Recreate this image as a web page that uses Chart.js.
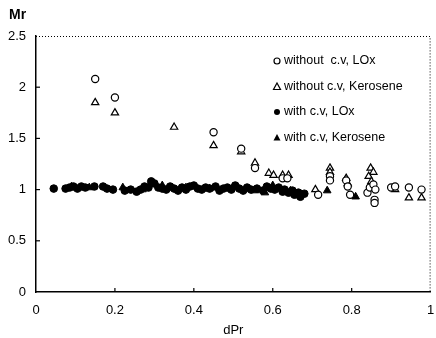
<!DOCTYPE html>
<html><head><meta charset="utf-8">
<script src="https://cdn.jsdelivr.net/npm/chart.js@4/dist/chart.umd.min.js"></script>
<style>html,body{margin:0;padding:0;background:#fff;}#wrap{width:436px;height:338px;}</style>
</head><body><div id="wrap"><canvas id="c" width="436" height="338"></canvas></div>
<script>
const xTicks = [0, 0.2, 0.4, 0.6, 0.8, 1];
const yTicks = [0, 0.5, 1, 1.5, 2, 2.5];
const seriesNames = ['without  c.v, LOx', 'without c.v, Kerosene', 'with c.v, LOx', 'with c.v, Kerosene'];

const noCvLoxX = [0.15,0.20,0.45,0.52,0.555,0.625,0.637,0.715,0.745,0.745,0.786,0.79,0.796,0.84,0.846,0.855,0.86,0.858,0.858,0.90,0.91,0.945,0.977];
const noCvLoxY = [2.08,1.90,1.56,1.40,1.21,1.11,1.11,0.95,1.13,1.09,1.09,1.03,0.95,0.97,1.02,1.05,1.00,0.90,0.87,1.02,1.03,1.02,1.00];

const noCvKerX = [0.15,0.20,0.35,0.45,0.52,0.555,0.59,0.602,0.625,0.64,0.708,0.745,0.745,0.786,0.79,0.848,0.855,0.843,0.85,0.91,0.945,0.977];
const noCvKerY = [1.85,1.75,1.61,1.43,1.37,1.26,1.16,1.14,1.14,1.14,1.00,1.21,1.17,1.11,1.06,1.21,1.17,1.13,1.08,1.00,0.92,0.92];

const cvLoxX = [0.045,0.075,0.085,0.095,0.105,0.115,0.125,0.148,0.17,0.18,0.195,0.225,0.24,0.255,0.265,0.275,0.285,0.292,0.30,0.31,0.32,0.33,0.34,0.35,0.36,0.37,0.38,0.39,0.40,0.41,0.42,0.43,0.44,0.455,0.465,0.475,0.485,0.495,0.505,0.515,0.525,0.535,0.545,0.56,0.575,0.585,0.595,0.605,0.615,0.625,0.63,0.64,0.65,0.655,0.665,0.67,0.68];
const cvLoxY = [1.01,1.01,1.02,1.03,1.01,1.03,1.02,1.03,1.03,1.01,1.00,0.99,1.00,0.98,1.00,1.03,1.02,1.08,1.06,1.02,1.01,1.00,1.03,1.01,0.99,1.02,1.00,1.03,1.04,1.01,1.00,1.02,1.01,1.03,0.99,1.01,1.02,1.00,1.04,1.01,0.99,1.02,1.00,1.01,0.99,1.03,1.01,1.00,1.02,0.98,1.00,0.97,0.99,0.95,0.97,0.93,0.96];

const cvKerX = [0.09,0.135,0.22,0.27,0.32,0.38,0.44,0.50,0.555,0.58,0.60,0.645,0.66,0.738,0.81];
const cvKerY = [1.03,1.02,1.02,1.00,1.04,1.02,1.01,1.03,0.99,0.97,1.04,0.99,0.96,0.99,0.93];

function pts(xs, ys){ return xs.map((x,i)=>({x:x, y:ys[i]})); }

const FONT = '"Liberation Sans", Arial, sans-serif';

const frame = {
  id:'frame',
  afterDraw(chart){
    const ctx = chart.ctx, a = chart.chartArea;
    ctx.save();
    ctx.strokeStyle = '#000'; ctx.lineWidth = 1; ctx.setLineDash([1,2]);
    ctx.beginPath();
    ctx.moveTo(a.left, a.top+0.5); ctx.lineTo(a.right-0.5, a.top+0.5); ctx.lineTo(a.right-0.5, a.bottom);
    ctx.stroke();
    ctx.setLineDash([]);
    ctx.lineWidth = 1.2;
    const xs = chart.scales.x, ys = chart.scales.y;
    xTicks.forEach(v=>{ if(v===0||v===1) return; const p = xs.getPixelForValue(v); ctx.beginPath(); ctx.moveTo(p, a.bottom); ctx.lineTo(p, a.bottom-4); ctx.stroke(); });
    yTicks.forEach(v=>{ if(v===0||v===2.5) return; const p = ys.getPixelForValue(v); ctx.beginPath(); ctx.moveTo(a.left, p); ctx.lineTo(a.left+4, p); ctx.stroke(); });
    ctx.fillStyle = '#000';
    ctx.font = 'bold 14px ' + FONT;
    ctx.textAlign = 'left'; ctx.textBaseline = 'middle';
    ctx.fillText('Mr', 9, 15);
    ctx.font = '12.5px ' + FONT;
    const lx = a.left + 241, ly0 = a.top + 25, dy = 25.5;
    chart.data.datasets.forEach((ds, i)=>{
      const y = ly0 + i*dy;
      ctx.strokeStyle = '#000'; ctx.fillStyle = '#000'; ctx.lineWidth = 1.2;
      ctx.beginPath();
      if (ds.pointStyle === 'circle') {
        ctx.arc(lx, y, 3, 0, Math.PI*2);
      } else {
        ctx.moveTo(lx, y-3.5); ctx.lineTo(lx+3.5, y+3); ctx.lineTo(lx-3.5, y+3); ctx.closePath();
      }
      if (ds.backgroundColor === '#000') ctx.fill(); else ctx.stroke();
      ctx.fillStyle = '#000';
      ctx.fillText(ds.label, lx + 7, y);
    });
    ctx.restore();
  }
};

new Chart(document.getElementById('c'), {
  type:'scatter',
  data:{ datasets:[
    {label:seriesNames[0], data:pts(noCvLoxX,noCvLoxY), pointStyle:'circle', radius:3.6, borderColor:'#000', backgroundColor:'#fff', borderWidth:1.2},
    {label:seriesNames[1], data:pts(noCvKerX,noCvKerY), pointStyle:'triangle', radius:4.2, borderColor:'#000', backgroundColor:'#fff', borderWidth:1.2},
    {label:seriesNames[2], data:pts(cvLoxX,cvLoxY), pointStyle:'circle', radius:3.8, borderColor:'#000', backgroundColor:'#000', borderWidth:1},
    {label:seriesNames[3], data:pts(cvKerX,cvKerY), pointStyle:'triangle', radius:4.4, borderColor:'#000', backgroundColor:'#000', borderWidth:1}
  ]},
  options:{
    responsive:false, animation:false, devicePixelRatio:1,
    layout:{padding:{top:36, right:3, left:0, bottom:0}},
    plugins:{legend:{display:false}, tooltip:{enabled:false}},
    scales:{
      x:{ type:'linear', min:0, max:1,
        afterBuildTicks(s){ s.ticks = xTicks.map(v=>({value:v})); },
        afterFit(s){ s.height = 46; s.paddingLeft = 0; s.paddingRight = 0; },
        grid:{display:false, drawTicks:false},
        border:{display:true, color:'#000', width:1.5},
        ticks:{ color:'#000', font:{family:FONT, size:13}, padding:11, maxRotation:0, callback:v=>String(v) },
        title:{ display:true, text:'dPr', color:'#000', font:{family:FONT, size:13}, padding:{top:0,bottom:0} }
      },
      y:{ type:'linear', min:0, max:2.5,
        afterBuildTicks(s){ s.ticks = yTicks.map(v=>({value:v})); },
        afterFit(s){ s.width = 36; s.paddingTop = 0; s.paddingBottom = 0; },
        grid:{display:false, drawTicks:false},
        border:{display:true, color:'#000', width:1.5},
        ticks:{ color:'#000', font:{family:FONT, size:13}, padding:10, callback:v=>String(v) }
      }
    }
  },
  plugins:[frame, {id:'bg', beforeDraw(c){const x=c.ctx; x.save(); x.fillStyle='#fff'; x.fillRect(0,0,c.width,c.height); x.restore();}}]
});
</script>
</body></html>
